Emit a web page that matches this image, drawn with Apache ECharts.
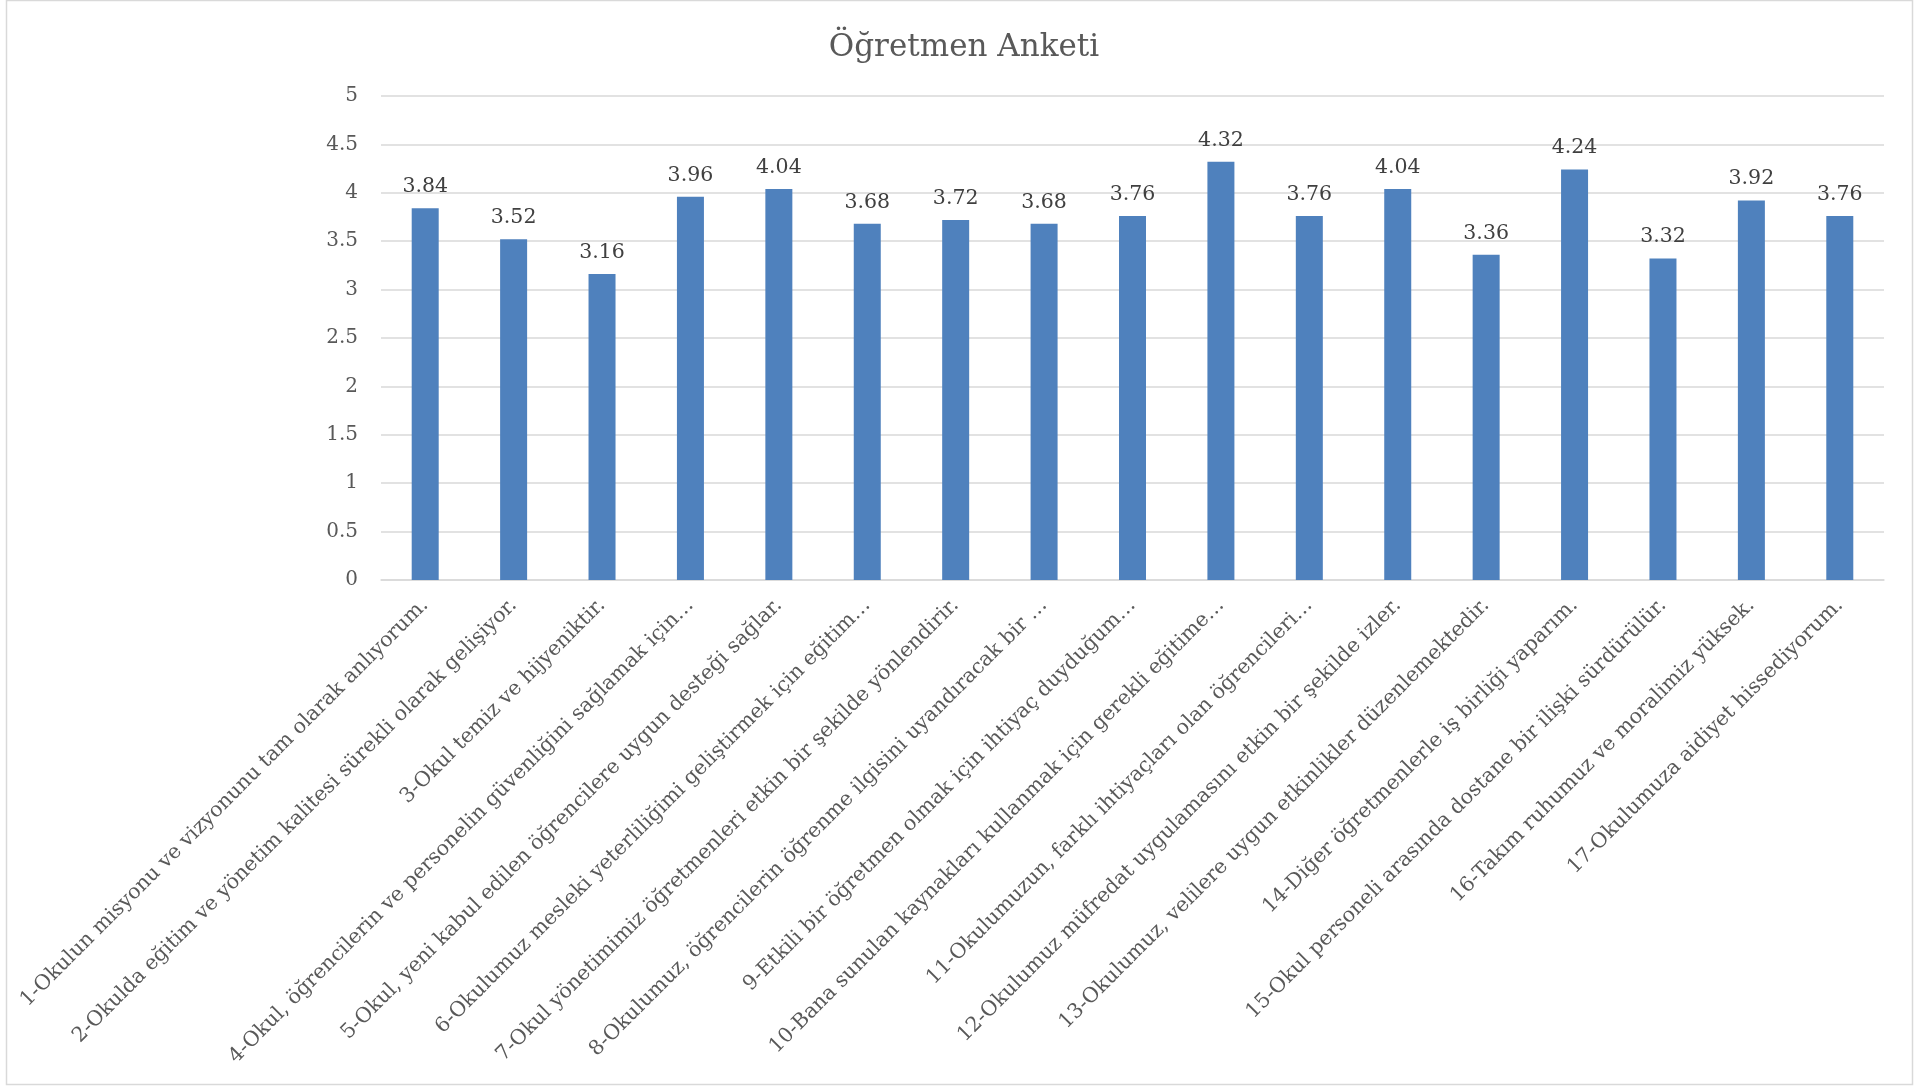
<!DOCTYPE html>
<html>
<head>
<meta charset="utf-8">
<script src="https://cdn.jsdelivr.net/npm/echarts@6/dist/echarts.min.js"></script>
<style>
html,body{margin:0;padding:0;background:#fff;}
#chart{width:1928px;height:1086px;}
</style>
</head>
<body>
<div id="chart"></div>
<script>
const title = "Öğretmen Anketi";
const categories = [
  "1-Okulun misyonu ve vizyonunu tam olarak anlıyorum.",
  "2-Okulda eğitim ve yönetim kalitesi sürekli olarak gelişiyor.",
  "3-Okul temiz ve hijyeniktir.",
  "4-Okul, öğrencilerin ve personelin güvenliğini sağlamak için…",
  "5-Okul, yeni kabul edilen öğrencilere uygun desteği sağlar.",
  "6-Okulumuz mesleki yeterliliğimi geliştirmek için eğitim…",
  "7-Okul yönetimimiz öğretmenleri etkin bir şekilde yönlendirir.",
  "8-Okulumuz, öğrencilerin öğrenme ilgisini uyandıracak bir …",
  "9-Etkili bir öğretmen olmak için ihtiyaç duyduğum…",
  "10-Bana sunulan kaynakları kullanmak için gerekli eğitime…",
  "11-Okulumuzun, farklı ihtiyaçları olan öğrencileri…",
  "12-Okulumuz müfredat uygulamasını etkin bir şekilde izler.",
  "13-Okulumuz, velilere uygun etkinlikler düzenlemektedir.",
  "14-Diğer öğretmenlerle iş birliği yaparım.",
  "15-Okul personeli arasında dostane bir ilişki sürdürülür.",
  "16-Takım ruhumuz ve moralimiz yüksek.",
  "17-Okulumuza aidiyet hissediyorum."
];
const values = [3.84, 3.52, 3.16, 3.96, 4.04, 3.68, 3.72, 3.68, 3.76, 4.32, 3.76, 4.04, 3.36, 4.24, 3.32, 3.92, 3.76];
const yMin = 0, yMax = 5, yInterval = 0.5;

const FONT = '"DejaVu Serif", serif';
const chart = echarts.init(document.getElementById('chart'), null, {renderer: 'canvas'});
chart.setOption({
  backgroundColor: '#ffffff',
  animation: false,
  title: {
    text: title,
    left: 'center',
    top: 27,
    textStyle: {fontFamily: FONT, fontSize: 31, fontWeight: 'normal', color: '#595959'}
  },
  graphic: [{
    type: 'rect',
    shape: {x: 6.5, y: 0.5, width: 1906, height: 1084},
    style: {fill: 'none', stroke: '#d9d9d9', lineWidth: 1.5},
    silent: true
  }],
  grid: {left: 381, right: 44, top: 96, bottom: 506, containLabel: false},
  xAxis: {
    type: 'category',
    data: categories,
    axisLine: {show: true, lineStyle: {color: '#d9d9d9', width: 1.5}},
    axisTick: {show: false},
    axisLabel: {
      interval: 0, rotate: 45, margin: 22,
      fontFamily: FONT, fontSize: 20.5, color: '#595959'
    }
  },
  yAxis: {
    type: 'value',
    min: yMin, max: yMax, interval: yInterval,
    axisLine: {show: false},
    axisTick: {show: false},
    splitLine: {lineStyle: {color: '#d9d9d9', width: 1.5}},
    axisLabel: {margin: 23, fontFamily: FONT, fontSize: 20, color: '#595959'}
  },
  series: [{
    type: 'bar',
    data: values,
    barWidth: 27,
    itemStyle: {color: '#4f81bd'},
    label: {
      show: true, position: 'top', distance: 11,
      fontFamily: FONT, fontSize: 20.5, color: '#404040',
      formatter: p => p.value.toFixed(2)
    }
  }]
});
</script>
</body>
</html>
